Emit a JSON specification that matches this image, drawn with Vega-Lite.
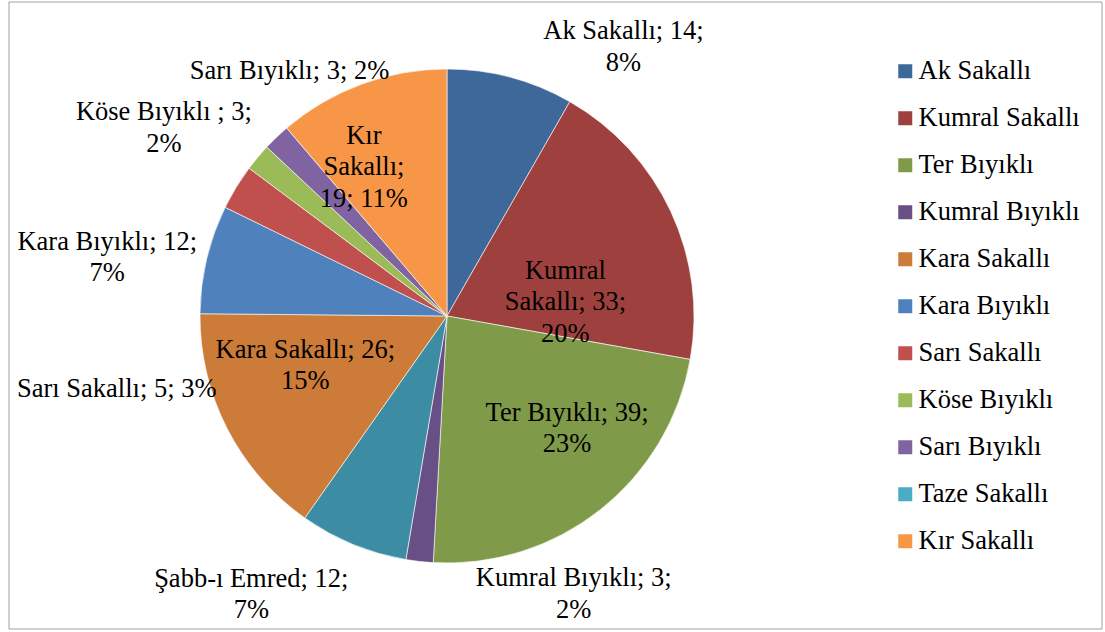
{
  "$schema": "https://vega.github.io/schema/vega-lite/v6.json",
  "width": 1105,
  "height": 632,
  "autosize": {"type": "fit", "contains": "padding"},
  "padding": {"left": 8, "top": 1, "right": 2, "bottom": 2},
  "background": "white",
  "config": {"view": {"stroke": null}, "font": "Liberation Serif, Times New Roman, serif"},
  "data": {"values": [
    {"ord": 1, "cat": "Ak Sakallı", "value": 14, "label": "Ak Sakallı; 14;\n8%"},
    {"ord": 2, "cat": "Kumral Sakallı", "value": 33, "label": "Kumral\nSakallı; 33;\n20%"},
    {"ord": 3, "cat": "Ter Bıyıklı", "value": 39, "label": "Ter Bıyıklı; 39;\n23%"},
    {"ord": 4, "cat": "Kumral Bıyıklı", "value": 3, "label": "Kumral Bıyıklı; 3;\n2%"},
    {"ord": 5, "cat": "Taze Sakallı", "value": 12, "label": "Şabb-ı Emred; 12;\n7%"},
    {"ord": 6, "cat": "Kara Sakallı", "value": 26, "label": "Kara Sakallı; 26;\n15%"},
    {"ord": 7, "cat": "Kara Bıyıklı", "value": 12, "label": "Kara Bıyıklı; 12;\n7%"},
    {"ord": 8, "cat": "Sarı Sakallı", "value": 5, "label": "Sarı Sakallı; 5; 3%"},
    {"ord": 9, "cat": "Köse Bıyıklı", "value": 3, "label": "Köse Bıyıklı ; 3;\n2%"},
    {"ord": 10, "cat": "Sarı Bıyıklı", "value": 3, "label": "Sarı Bıyıklı; 3; 2%"},
    {"ord": 11, "cat": "Kır Sakallı", "value": 19, "label": "Kır\nSakallı;\n19; 11%"}
  ]},
  "transform": [
    {"window": [{"op": "sum", "field": "value", "as": "cum"}], "sort": [{"field": "ord", "order": "ascending"}], "frame": [null, 0]},
    {"calculate": "datum.cum - datum.value / 2", "as": "mid"}
  ],
  "layer": [
    {
      "data": {"values": [{"frame": 1}]},
      "transform": [],
      "mark": {"type": "rect", "fill": null, "fillOpacity": 0, "stroke": "#A0A0A0", "strokeWidth": 1},
      "encoding": {"x": {"value": 0}, "x2": {"value": "width"}, "y": {"value": 0}, "y2": {"value": "height"}}
    },
    {
      "mark": {"type": "arc", "outerRadius": 247, "x": 438, "y": 314, "stroke": "#FFFFFF", "strokeWidth": 0.6},
      "encoding": {
        "theta": {"field": "value", "type": "quantitative", "stack": true},
        "order": {"field": "ord", "type": "quantitative"},
        "color": {
          "condition": {"test": "datum.cat === 'Taze Sakallı'", "value": "#3C8DA3"},
          "field": "cat", "type": "nominal",
          "scale": {
            "domain": ["Ak Sakallı", "Kumral Sakallı", "Ter Bıyıklı", "Kumral Bıyıklı", "Kara Sakallı", "Kara Bıyıklı", "Sarı Sakallı", "Köse Bıyıklı", "Sarı Bıyıklı", "Taze Sakallı", "Kır Sakallı"],
            "range": ["#3F689A", "#9E413E", "#7F9A48", "#684F86", "#CC7B38", "#4F81BD", "#C0504D", "#9BBB59", "#8064A2", "#4BACC6", "#F79646"]
          },
          "legend": {
            "orient": "none", "legendX": 883, "legendY": 56, "title": null,
            "symbolType": "square", "symbolSize": 196, "symbolStrokeWidth": 0,
            "labelFont": "Liberation Serif, Times New Roman, serif", "labelFontSize": 26.5, "labelColor": "#000000",
            "labelOffset": 0, "rowPadding": 20, "labelLimit": 300
          }
        }
      }
    },
    {"transform": [{"filter": "datum.cat === 'Ak Sakallı'"}],
     "mark": {"type": "text", "x": 438, "y": 314, "radius": 305, "dx": 98, "dy": 10, "font": "Liberation Serif, Times New Roman, serif", "fontSize": 26.5, "lineBreak": "\n", "lineHeight": 31.5, "align": "center", "baseline": "middle", "color": "#000000"},
     "encoding": {"theta": {"field": "mid", "type": "quantitative", "stack": null}, "text": {"field": "label"}}},
    {"transform": [{"filter": "datum.cat === 'Kumral Sakallı'"}],
     "mark": {"type": "text", "x": 438, "y": 314, "radius": 113, "dx": 16, "dy": 2.5, "font": "Liberation Serif, Times New Roman, serif", "fontSize": 26.5, "lineBreak": "\n", "lineHeight": 31.5, "align": "center", "baseline": "middle", "color": "#000000"},
     "encoding": {"theta": {"field": "mid", "type": "quantitative", "stack": null}, "text": {"field": "label"}}},
    {"transform": [{"filter": "datum.cat === 'Ter Bıyıklı'"}],
     "mark": {"type": "text", "x": 438, "y": 314, "radius": 163, "dx": 19, "dy": -31, "font": "Liberation Serif, Times New Roman, serif", "fontSize": 26.5, "lineBreak": "\n", "lineHeight": 31.5, "align": "center", "baseline": "middle", "color": "#000000"},
     "encoding": {"theta": {"field": "mid", "type": "quantitative", "stack": null}, "text": {"field": "label"}}},
    {"transform": [{"filter": "datum.cat === 'Kumral Bıyıklı'"}],
     "mark": {"type": "text", "x": 438, "y": 314, "radius": 263, "dx": 156, "dy": 1, "font": "Liberation Serif, Times New Roman, serif", "fontSize": 26.5, "lineBreak": "\n", "lineHeight": 31.5, "align": "center", "baseline": "middle", "color": "#000000"},
     "encoding": {"theta": {"field": "mid", "type": "quantitative", "stack": null}, "text": {"field": "label"}}},
    {"transform": [{"filter": "datum.cat === 'Taze Sakallı'"}],
     "mark": {"type": "text", "x": 438, "y": 314, "radius": 333, "dx": -69, "dy": -45, "font": "Liberation Serif, Times New Roman, serif", "fontSize": 26.5, "lineBreak": "\n", "lineHeight": 31.5, "align": "center", "baseline": "middle", "color": "#000000"},
     "encoding": {"theta": {"field": "mid", "type": "quantitative", "stack": null}, "text": {"field": "label"}}},
    {"transform": [{"filter": "datum.cat === 'Kara Sakallı'"}],
     "mark": {"type": "text", "x": 438, "y": 314, "radius": 148, "dx": -10, "dy": -34, "font": "Liberation Serif, Times New Roman, serif", "fontSize": 26.5, "lineBreak": "\n", "lineHeight": 31.5, "align": "center", "baseline": "middle", "color": "#000000"},
     "encoding": {"theta": {"field": "mid", "type": "quantitative", "stack": null}, "text": {"field": "label"}}},
    {"transform": [{"filter": "datum.cat === 'Kara Bıyıklı'"}],
     "mark": {"type": "text", "x": 438, "y": 314, "radius": 344, "dx": -5, "dy": 5, "font": "Liberation Serif, Times New Roman, serif", "fontSize": 26.5, "lineBreak": "\n", "lineHeight": 31.5, "align": "center", "baseline": "middle", "color": "#000000"},
     "encoding": {"theta": {"field": "mid", "type": "quantitative", "stack": null}, "text": {"field": "label"}}},
    {"transform": [{"filter": "datum.cat === 'Sarı Sakallı'"}],
     "mark": {"type": "text", "x": 438, "y": 314, "radius": 244, "dx": -122, "dy": 200, "font": "Liberation Serif, Times New Roman, serif", "fontSize": 26.5, "lineBreak": "\n", "lineHeight": 31.5, "align": "center", "baseline": "middle", "color": "#000000"},
     "encoding": {"theta": {"field": "mid", "type": "quantitative", "stack": null}, "text": {"field": "label"}}},
    {"transform": [{"filter": "datum.cat === 'Köse Bıyıklı'"}],
     "mark": {"type": "text", "x": 438, "y": 314, "radius": 338, "dx": -24, "dy": 13, "font": "Liberation Serif, Times New Roman, serif", "fontSize": 26.5, "lineBreak": "\n", "lineHeight": 31.5, "align": "center", "baseline": "middle", "color": "#000000"},
     "encoding": {"theta": {"field": "mid", "type": "quantitative", "stack": null}, "text": {"field": "label"}}},
    {"transform": [{"filter": "datum.cat === 'Sarı Bıyıklı'"}],
     "mark": {"type": "text", "x": 438, "y": 314, "radius": 286, "dx": 40, "dy": -38, "font": "Liberation Serif, Times New Roman, serif", "fontSize": 26.5, "lineBreak": "\n", "lineHeight": 31.5, "align": "center", "baseline": "middle", "color": "#000000"},
     "encoding": {"theta": {"field": "mid", "type": "quantitative", "stack": null}, "text": {"field": "label"}}},
    {"transform": [{"filter": "datum.cat === 'Kır Sakallı'"}],
     "mark": {"type": "text", "x": 438, "y": 314, "radius": 168, "dx": -25, "dy": -22.5, "font": "Liberation Serif, Times New Roman, serif", "fontSize": 26.5, "lineBreak": "\n", "lineHeight": 31.5, "align": "center", "baseline": "middle", "color": "#000000"},
     "encoding": {"theta": {"field": "mid", "type": "quantitative", "stack": null}, "text": {"field": "label"}}}
  ]
}
